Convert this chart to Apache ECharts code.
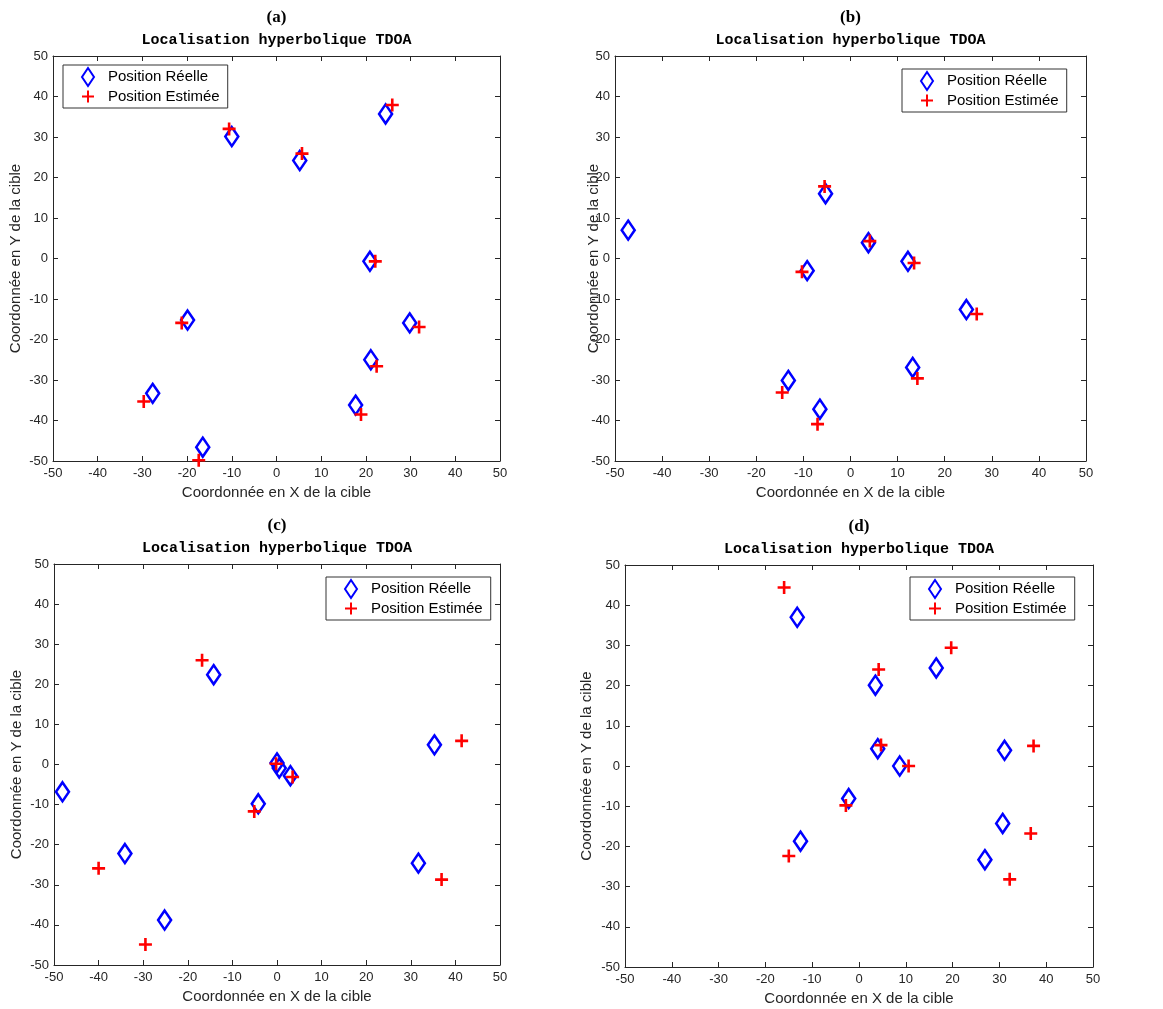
<!DOCTYPE html>
<html>
<head>
<meta charset="utf-8">
<script src="https://cdn.jsdelivr.net/npm/echarts@6/dist/echarts.min.js"></script>
<style>
html,body{margin:0;padding:0;background:#fff;}
#chart{width:1163px;height:1009px;}
</style>
</head>
<body>
<div id="chart"></div>
<script>
// valeurs, [x, y]
var reelleA = [[24.4,35.7],[-10.0,30.1],[5.2,24.2],[20.9,-0.7],[-19.9,-15.2],[29.8,-15.9],[21.1,-25.0],[-27.7,-33.3],[17.7,-36.2],[-16.5,-46.6]];
var estimeeA = [[25.9,37.9],[-10.6,32.0],[5.7,25.9],[22.1,-0.7],[-21.2,-15.9],[31.9,-16.9],[22.4,-26.6],[-29.7,-35.3],[18.9,-38.5],[-17.4,-49.8]];

var reelleB = [[-47.2,7.0],[-5.3,16.0],[3.8,3.9],[12.2,-0.7],[-9.2,-3.0],[24.6,-12.6],[13.2,-26.9],[-13.2,-30.1],[-6.5,-37.2]];
var estimeeB = [[-5.5,17.8],[4.1,4.3],[13.5,-1.1],[-10.3,-3.3],[26.8,-13.7],[14.2,-29.6],[-14.5,-33.1],[-7.0,-40.9]];

var reelleC = [[-48.1,-6.8],[-14.2,22.4],[0.0,0.4],[0.5,-0.9],[3.0,-2.8],[-4.2,-9.8],[-34.1,-22.2],[-25.2,-38.8],[35.3,4.9],[31.7,-24.6]];
var estimeeC = [[-16.8,26.0],[-0.2,0.2],[3.5,-3.1],[-5.1,-11.7],[-40.0,-25.9],[-29.5,-44.9],[41.4,5.9],[36.9,-28.7]];

var reelleD = [[-13.2,37.0],[3.5,20.1],[16.5,24.4],[4.0,4.3],[8.7,0.0],[-2.2,-8.1],[-12.5,-18.7],[31.1,3.9],[30.7,-14.3],[26.9,-23.3]];
var estimeeD = [[-16.0,44.4],[4.2,24.0],[19.7,29.4],[4.7,5.2],[10.6,0.0],[-2.8,-9.8],[-15.0,-22.4],[37.3,5.0],[36.7,-16.8],[32.2,-28.2]];

var panelLabels = ['(a)','(b)','(c)','(d)'];
var titreTexte = 'Localisation hyperbolique TDOA';
var nomX = 'Coordonnée en X de la cible';
var nomY = 'Coordonnée en Y de la cible';
var nomReelle = 'Position Réelle';
var nomEstimee = 'Position Estimée';

var reelles = [reelleA, reelleB, reelleC, reelleD];
var estimees = [estimeeA, estimeeB, estimeeC, estimeeD];

var grilles = [
	{left:53, top:56, width:447, height:405},
	{left:615, top:56, width:471, height:405},
	{left:54, top:564, width:446, height:401},
	{left:625, top:565, width:468, height:402}
];
var yNameGap = [30, 14, 30, 31];
var legendes = [
	{left:63, top:65},
	{left:902, top:69},
	{left:326, top:577},
	{left:910, top:577}
];

var plusPath = 'path://M0,5H10M5,0V10';
var axeCouleur = '#262626';

var option = {
	backgroundColor:'#fff',
	animation:false,
	title:[], grid:[], xAxis:[], yAxis:[], legend:[], series:[]
};

for (var i = 0; i < 4; i++) {
	var g = grilles[i];
	var cx = g.left + g.width / 2;
	option.grid.push({left:g.left, top:g.top, width:g.width, height:g.height,
		containLabel:false, outerBoundsMode:'none', show:false});
	option.title.push({text:panelLabels[i], left:cx, top:g.top - 47, padding:0, textAlign:'center',
		textStyle:{fontFamily:'Liberation Serif', fontWeight:'bold', fontSize:17, color:'#000'}});
	option.title.push({text:titreTexte, left:cx, top:g.top - 23, padding:0, textAlign:'center',
		textStyle:{fontFamily:'Liberation Mono', fontWeight:'bold', fontSize:15, color:'#000'}});

	var axeBase = {min:-50, max:50, interval:10, gridIndex:i, type:'value',
		axisLine:{show:true, onZero:false, lineStyle:{color:axeCouleur, width:1}},
		axisTick:{show:true, inside:true, length:5, lineStyle:{color:axeCouleur}},
		splitLine:{show:false}};
	option.xAxis.push(Object.assign({}, axeBase, {position:'bottom',
		name:nomX, nameLocation:'middle', nameGap:24, nameMoveOverlap:false,
		nameTextStyle:{fontFamily:'Liberation Sans', fontSize:15, color:axeCouleur},
		axisLabel:{fontFamily:'Liberation Sans', fontSize:13, color:axeCouleur, margin:6}}));
	option.xAxis.push(Object.assign({}, axeBase, {position:'top', axisLabel:{show:false}}));
	option.yAxis.push(Object.assign({}, axeBase, {position:'left',
		name:nomY, nameLocation:'middle', nameGap:yNameGap[i], nameMoveOverlap:false,
		nameTextStyle:{fontFamily:'Liberation Sans', fontSize:15, color:axeCouleur},
		axisLabel:{fontFamily:'Liberation Sans', fontSize:13, color:axeCouleur, margin:5}}));
	option.yAxis.push(Object.assign({}, axeBase, {position:'right', axisLabel:{show:false}}));

	var sr = 'reelle' + i, se = 'estimee' + i;
	option.series.push({id:sr, name:nomReelle, type:'scatter', xAxisIndex:i*2, yAxisIndex:i*2,
		data:reelles[i], symbol:'diamond', symbolSize:[13,19],
		itemStyle:{color:'rgba(0,0,0,0)', borderColor:'#0000ff', borderWidth:2.6, opacity:1}, emphasis:{disabled:true}, z:2});
	option.series.push({id:se, name:nomEstimee, type:'scatter', xAxisIndex:i*2, yAxisIndex:i*2,
		data:estimees[i], symbol:plusPath, symbolSize:[13,13],
		itemStyle:{color:'rgba(0,0,0,0)', borderColor:'#ff0000', borderWidth:2.6, opacity:1}, emphasis:{disabled:true}, z:3});

	option.legend.push({left:legendes[i].left, top:legendes[i].top, orient:'vertical',
		data:[{name:nomReelle}, {name:nomEstimee}],
		padding:[2,8,4,18], itemGap:2, itemWidth:12, itemHeight:18,
		borderColor:'#333', borderWidth:1, backgroundColor:'#fff',
		selectedMode:false,
		textStyle:{fontFamily:'Liberation Sans', fontSize:15, color:'#000', padding:[0,0,0,9]}});
}

// cadre complet : axes haut/droite sans etiquettes
var myChart = echarts.init(document.getElementById('chart'));
myChart.setOption(option);
</script>
</body>
</html>
